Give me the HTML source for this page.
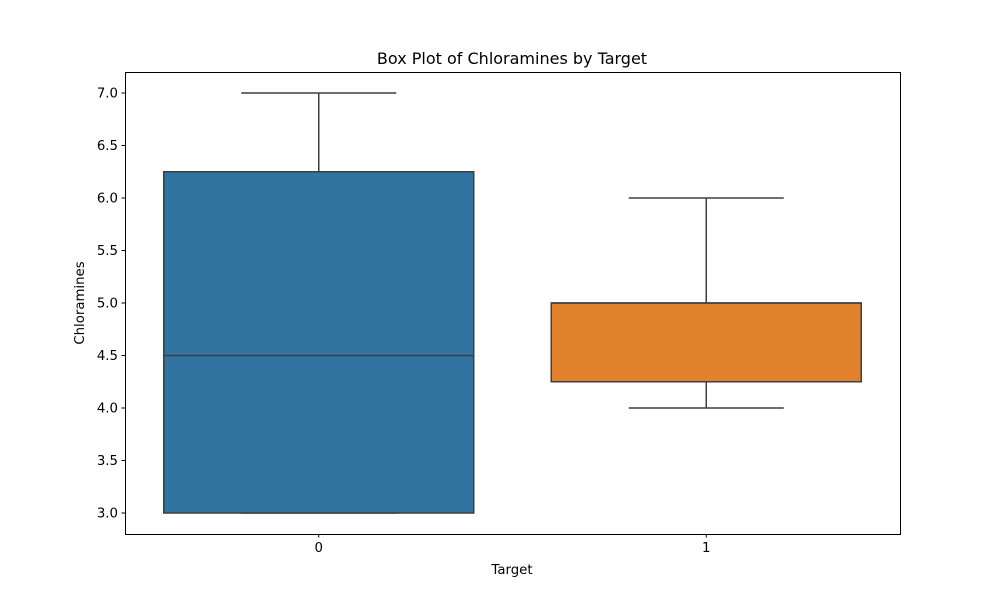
<!DOCTYPE html>
<html><head><meta charset="utf-8"><style>
body{margin:0;background:#fff;}
svg text{font-family:"DejaVu Sans","Liberation Sans",sans-serif;fill:#000;}
</style></head><body>
<svg id="chart" width="1000" height="600">
<rect x="0" y="0" width="1000" height="600" fill="#fff"/>
<text x="512" y="64" font-size="16" text-anchor="middle">Box Plot of Chloramines by Target</text>
<g id="plot"></g>
<rect x="125.5" y="72.5" width="775" height="462" fill="none" stroke="#000" stroke-width="1"/>
<text x="512" y="574" font-size="13.3" text-anchor="middle">Target</text>
<text transform="translate(84,303) rotate(-90)" font-size="13.3" text-anchor="middle">Chloramines</text>
</svg>
<script>
const categories = ["0","1"];
const mins = [3.0, 4.0];
const q1s = [3.0, 4.25];
const medians = [4.5, 5.0];
const q3s = [6.25, 5.0];
const maxs = [7.0, 6.0];
const colors = ["#3274a1","#e1812c"];
const yTicks = [3.0,3.5,4.0,4.5,5.0,5.5,6.0,6.5,7.0];
const yTickLabels = ["3.0","3.5","4.0","4.5","5.0","5.5","6.0","6.5","7.0"];

const NS="http://www.w3.org/2000/svg";
const L=125,R=900,T=72,B=534, yMin=2.8, yMax=7.2;
const y=v=>B-(v-yMin)/(yMax-yMin)*(B-T);
const band=(R-L)/categories.length;
const x=i=>L+band*(i+0.5);
const g=document.getElementById('plot');
function mk(tag,a){const e=document.createElementNS(NS,tag);for(const k in a)e.setAttribute(k,a[k]);g.appendChild(e);return e;}
const lc="#3f3f3f";
yTicks.forEach((t,i)=>{
  const tk=mk('line',{x1:L-3.5,x2:L,y1:y(t),y2:y(t),stroke:'#000','stroke-width':1});
  
  
  const tx=mk('text',{x:L-7,y:y(t)+4.5,'font-size':13.3,'text-anchor':'end'});
  tx.textContent=yTickLabels[i];
  
  
});
categories.forEach((c,i)=>{
  const cx=x(i), bw=band*0.8, cw=band*0.4;
  const tk=mk('line',{x1:cx,x2:cx,y1:B,y2:B+3.5,stroke:'#000','stroke-width':1});
  
  
  const tx=mk('text',{x:cx,y:B+18,'font-size':13.3,'text-anchor':'middle'});
  tx.textContent=c;
  
  
  const w1=mk('line',{x1:cx,x2:cx,y1:y(q1s[i]),y2:y(mins[i]),stroke:lc,'stroke-width':1.5});
  
  
  const w2=mk('line',{x1:cx,x2:cx,y1:y(q3s[i]),y2:y(maxs[i]),stroke:lc,'stroke-width':1.5});
  
  
  const c1=mk('line',{x1:cx-cw/2,x2:cx+cw/2,y1:y(mins[i]),y2:y(mins[i]),stroke:lc,'stroke-width':1.5});
  
  
  const c2=mk('line',{x1:cx-cw/2,x2:cx+cw/2,y1:y(maxs[i]),y2:y(maxs[i]),stroke:lc,'stroke-width':1.5});
  
  
  const bx=mk('rect',{x:cx-bw/2,y:y(q3s[i]),width:bw,height:Math.max(0,y(q1s[i])-y(q3s[i])),fill:colors[i],stroke:lc,'stroke-width':1.5});
  
  
  const md=mk('line',{x1:cx-bw/2,x2:cx+bw/2,y1:y(medians[i]),y2:y(medians[i]),stroke:lc,'stroke-width':1.5});
  
  
});
</script>
</body></html>
